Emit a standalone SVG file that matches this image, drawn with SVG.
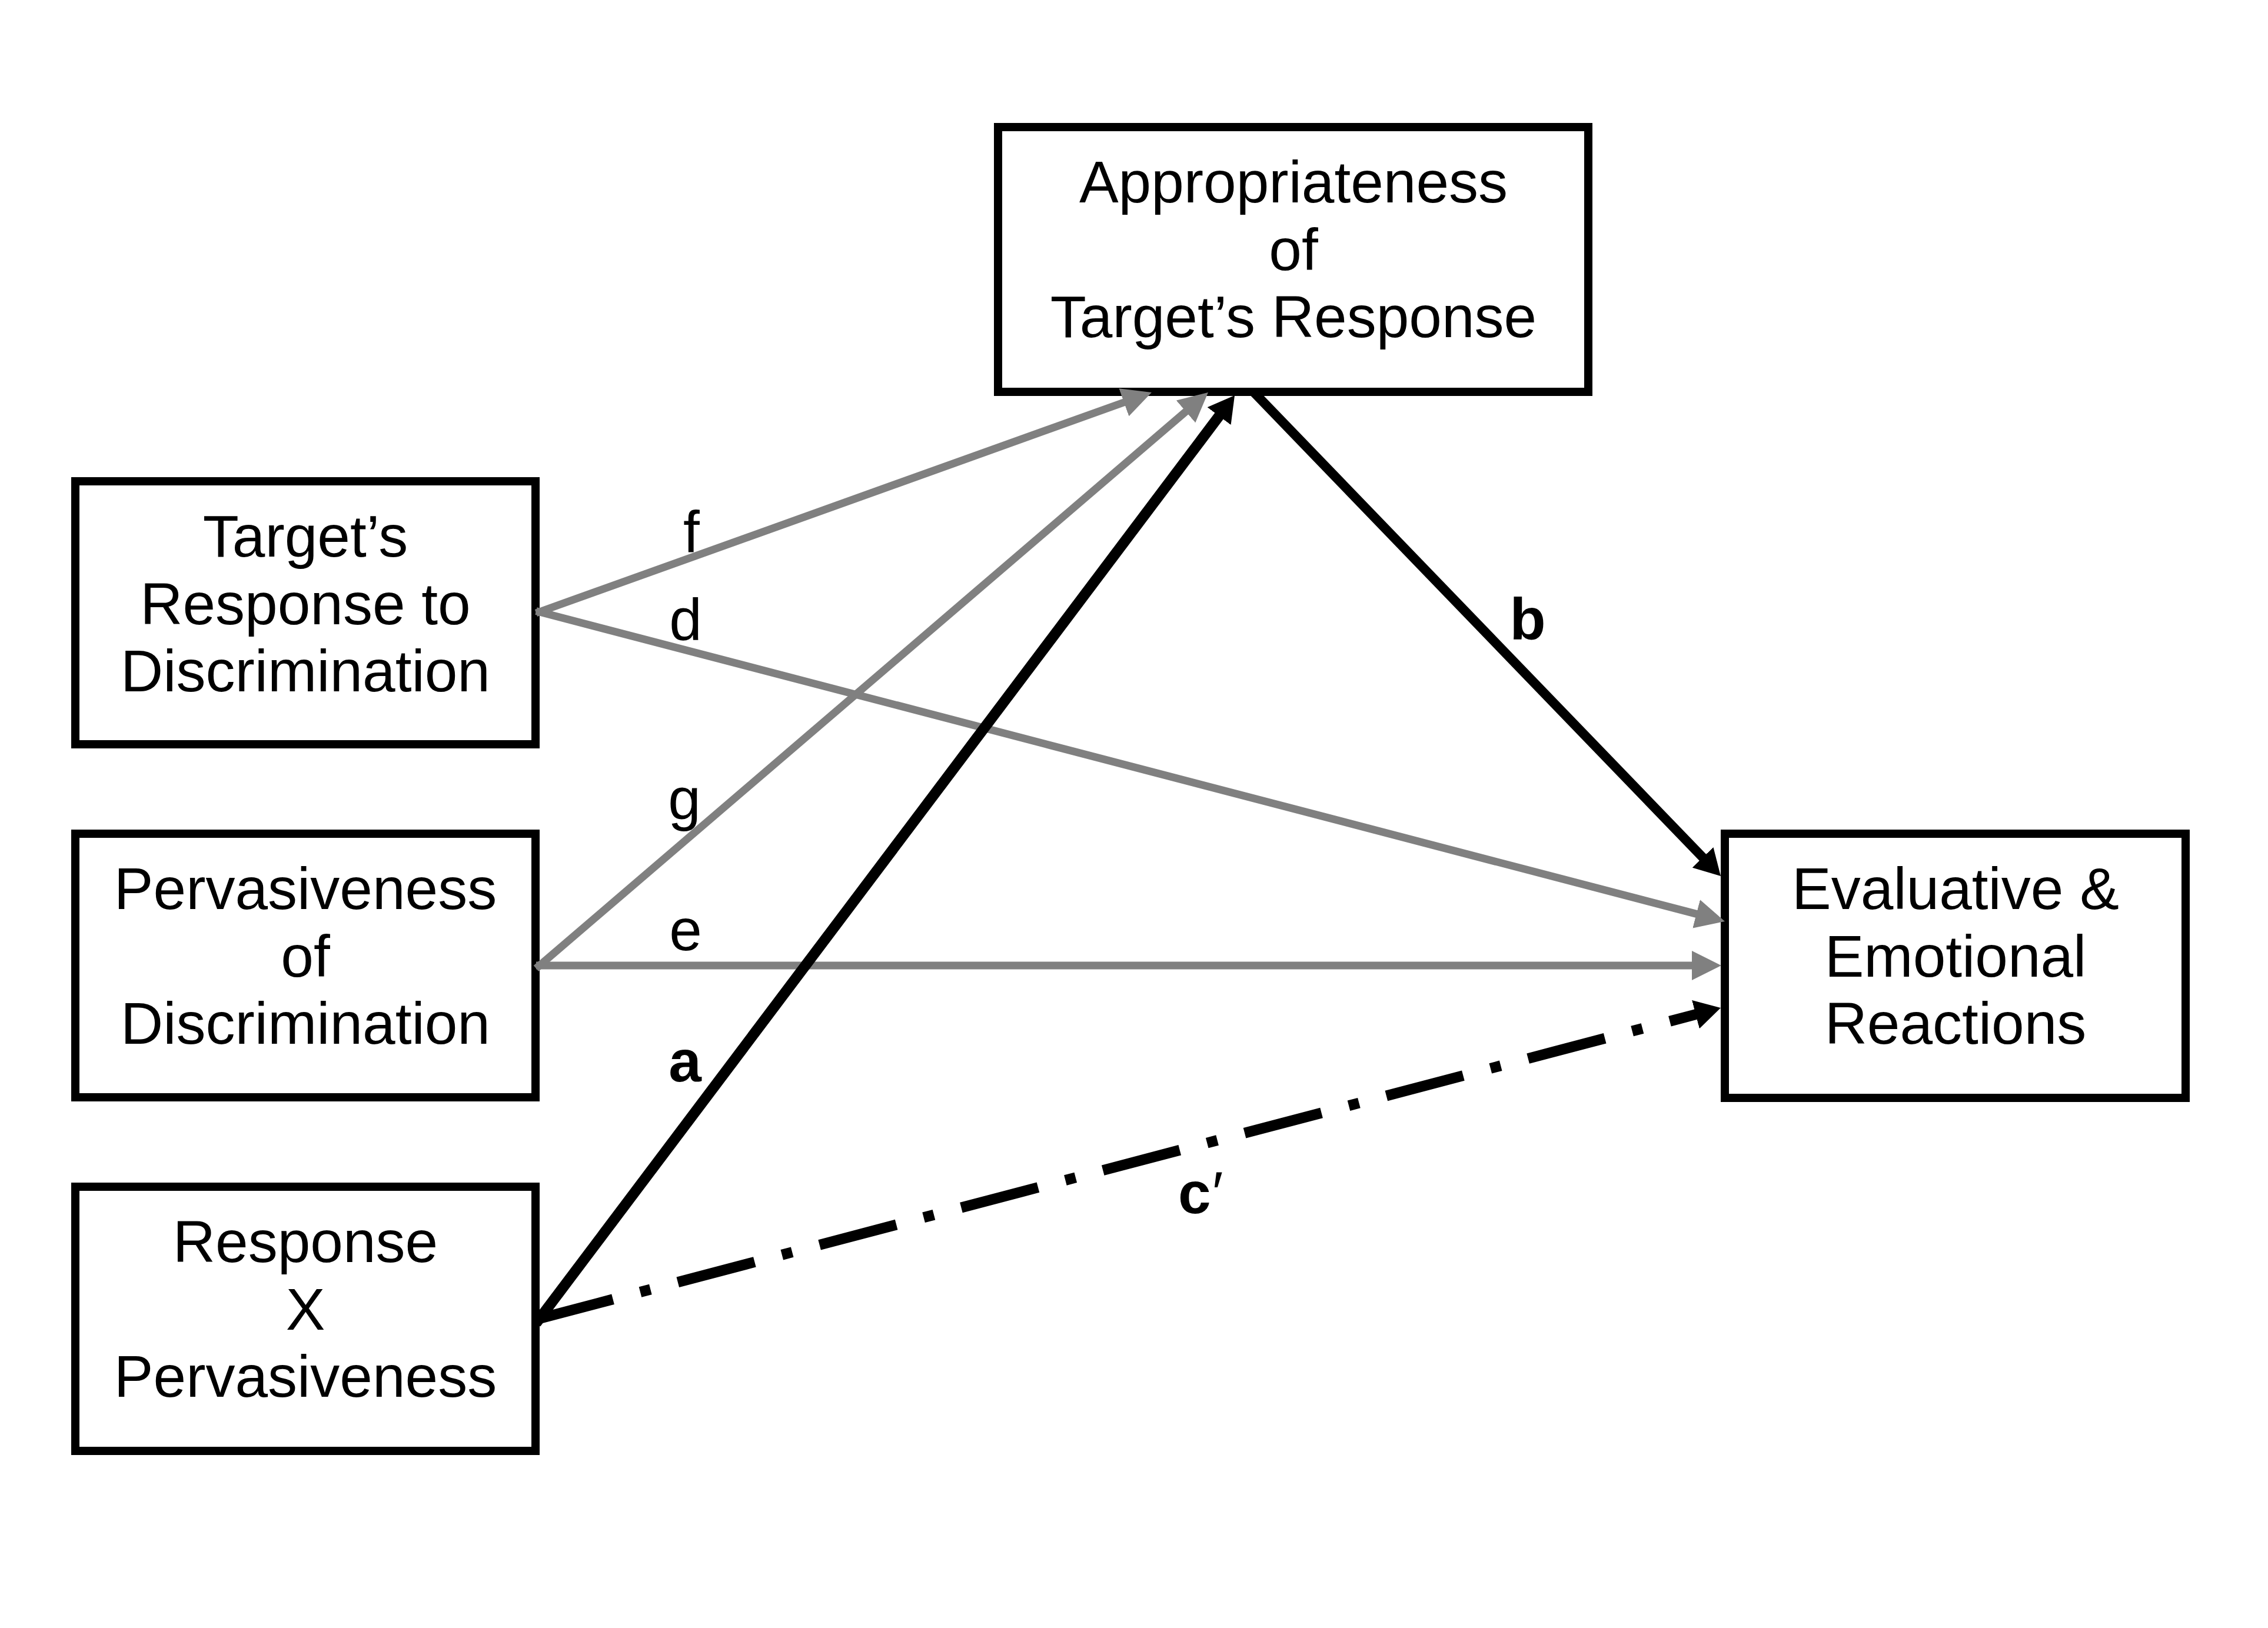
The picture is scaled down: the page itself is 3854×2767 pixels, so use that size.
<svg xmlns="http://www.w3.org/2000/svg" width="3854" height="2767" viewBox="0 0 3854 2767">
<style>
.box{fill:#fff;stroke:#000;stroke-width:14}
.t{font-family:"Liberation Sans",Arial,Helvetica,sans-serif;font-size:100px;fill:#000;text-anchor:middle}
.lb{font-family:"Liberation Sans",Arial,Helvetica,sans-serif;font-size:100px;fill:#000;text-anchor:middle}
.bold{font-weight:bold}
.gray{fill:none;stroke:#808080;stroke-width:13;marker-end:url(#hg)}
.blk{fill:none;stroke:#000;stroke-width:18;marker-end:url(#hb)}
.dash{stroke-dasharray:135 48 18 48}
</style>
<defs>
<marker id="hg" markerUnits="userSpaceOnUse" markerWidth="50" markerHeight="50" viewBox="0 -25 50 50" refX="10" refY="0" orient="auto">
<path d="M0,-25 L50,0 L0,25 Z" fill="#808080"/>
</marker>
<marker id="hb" markerUnits="userSpaceOnUse" markerWidth="44" markerHeight="50" viewBox="0 -25 44 50" refX="10" refY="0" orient="auto">
<path d="M0,-25 L44,0 L0,25 Z" fill="#000"/>
</marker>
</defs>
<rect x="0" y="0" width="3854" height="2767" fill="#fff"/>
<g id="node-appropriateness">
<rect class="box" x="1696" y="216" width="1003" height="450"/>
<text class="t" x="2198" y="344">Appropriateness</text>
<text class="t" x="2198" y="458.5">of</text>
<text class="t" x="2198" y="573">Target’s Response</text>
</g>
<g id="node-target-response">
<rect class="box" x="128" y="818" width="782" height="447"/>
<text class="t" x="519" y="946">Target’s</text>
<text class="t" x="519" y="1060.5">Response to</text>
<text class="t" x="519" y="1175">Discrimination</text>
</g>
<g id="node-pervasiveness">
<rect class="box" x="128" y="1417" width="782" height="448"/>
<text class="t" x="519" y="1545">Pervasiveness</text>
<text class="t" x="519" y="1659.5">of</text>
<text class="t" x="519" y="1774">Discrimination</text>
</g>
<g id="node-interaction">
<rect class="box" x="128" y="2017" width="782" height="449"/>
<text class="t" x="519" y="2145">Response</text>
<text class="t" x="519" y="2259.5">X</text>
<text class="t" x="519" y="2374">Pervasiveness</text>
</g>
<g id="node-reactions">
<rect class="box" x="2931" y="1417" width="783" height="449"/>
<text class="t" x="3323" y="1545">Evaluative &amp;</text>
<text class="t" x="3323" y="1659.5">Emotional</text>
<text class="t" x="3323" y="1774">Reactions</text>
</g>
<g id="connectors">
<path id="path-f" class="gray" d="M911,1042 L1919.3,680.5"/>
<path id="path-d" class="gray" d="M911,1038.5 L2892.3,1555.9"/>
<path id="path-g" class="gray" d="M911,1646 L2022.6,693"/>
<path id="path-e" class="gray" d="M911,1641 L2885,1641"/>
<path id="path-a" class="blk" d="M911,2249 L2077.6,699.2"/>
<path id="path-b" class="blk" style="stroke-width:16" d="M2130,666 L2900.4,1464.5"/>
<path id="path-c" class="blk dash" d="M911,2242.6 L2891.1,1721.6"/>
<text class="lb" x="1175" y="939">f</text>
<text class="lb" x="1165" y="1088">d</text>
<text class="lb" x="1163" y="1392">g</text>
<text class="lb" x="1165" y="1615">e</text>
<text class="lb bold" x="1164" y="1838">a</text>
<text class="lb bold" x="2596" y="1087">b</text>
<text class="lb" x="2002" y="2062" style="text-anchor:start"><tspan class="bold">c</tspan><tspan dx="2">′</tspan></text>
</g>
</svg>
